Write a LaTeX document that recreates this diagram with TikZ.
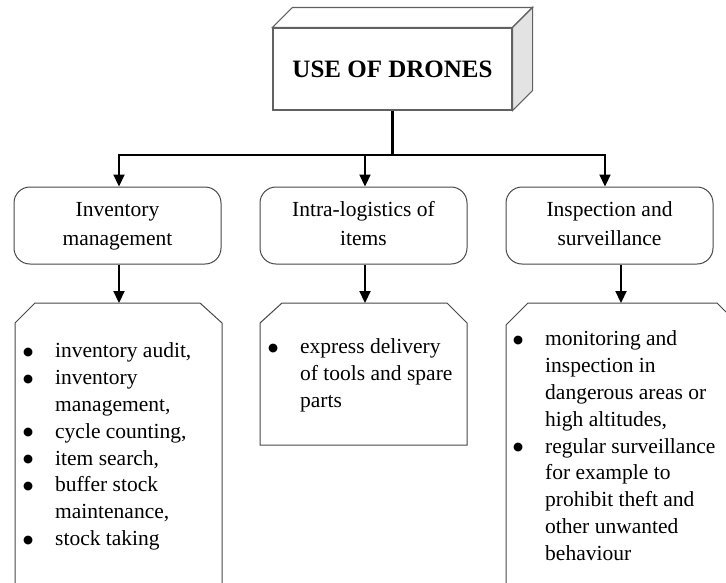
\documentclass[tikz,border=0pt]{standalone}
\usepackage{fontspec}
\setmainfont{Liberation Serif}
\newfontfamily\dejavu{DejaVu Sans}
\usetikzlibrary{arrows.meta}
\newcommand{\bul}{\raisebox{2.5pt}{\dejavu\fontsize{11.5}{12}\selectfont ●}}
\begin{document}
\begin{tikzpicture}[x=1pt,y=-1pt,
  edge/.style={draw=black!72, line width=1pt},
  cube/.style={draw=black!62, line width=1.1pt},
  hdr/.style={edge, rounded corners=16pt, minimum width=207pt, minimum height=77pt, inner sep=0pt, align=center, font=\fontsize{21.5}{29}\selectfont},
  arr/.style={line width=2.2pt, -{Triangle[length=12pt,width=11pt]}},
  lst/.style={anchor=north west, inner sep=0pt, font=\fontsize{21.5}{26.8}\selectfont},
]
\clip (0,0) rectangle (726,582);
% title cube
\node[cube, fill=white, minimum width=239pt, minimum height=82pt, inner sep=0pt,
      font=\bfseries\fontsize{25}{28}\selectfont] (title) at (392.5,69) {USE OF DRONES};
\draw[cube, fill=white] (title.north west) -- ++(20,-20) -- ([shift={(20,-20)}]title.north east) -- (title.north east) -- cycle;
\draw[cube, fill=gray!22] (title.north east) -- ++(20,-20) -- ([shift={(20,-20)}]title.south east) -- (title.south east) -- cycle;
% header boxes
\node[hdr] (b1) at (117.5,225.5) {\raisebox{-2.5pt}{\begin{tabular}{@{}c@{}}Inventory\\management\end{tabular}}};
\node[hdr] (b2) at (363.5,225.5) {\raisebox{-1pt}{\begin{tabular}{@{}c@{}}Intra-logistics of\\items\end{tabular}}};
\node[hdr] (b3) at (609.5,225.5) {\raisebox{-1pt}{\begin{tabular}{@{}c@{}}Inspection and\\surveillance\end{tabular}}};
% connectors
\coordinate (j) at (392.5,155);
\draw[line width=2.2pt] (title.south) -- (j);
\draw[arr] (j) -| ([xshift=1.5pt]b1.north);
\draw[arr] (j) -| ([xshift=1.5pt]b2.north);
\draw[arr] (j) -| ([xshift=-4.5pt]b3.north);
% lower boxes
\draw[edge, fill=white] (15,650) -- (15,323) -- (35,303) -- (200,303) -- (222,323) -- (222,650);
\draw[edge, fill=white] (260,445) -- (260,323) -- (282,303) -- (447,303) -- (467,323) -- (467,445) -- cycle;
\draw[edge, fill=white] (506,650) -- (506,325) -- (528,303) -- (717,303) -- (739,325) -- (739,650);
\coordinate (L1) at (119,303);
\coordinate (L2) at (365,303);
\coordinate (L3) at (621,303);
\draw[arr] ([xshift=1.5pt]b1.south) -- (L1);
\draw[arr] ([xshift=1.5pt]b2.south) -- (L2);
\draw[arr] ([xshift=11.5pt]b3.south) -- (L3);
% lists
\node[lst] (t1) at (23,339) {\begin{tabular}{@{}p{32pt}@{}l@{}}
\bul & inventory audit,\\
\bul & inventory\\
 & management,\\
\bul & cycle counting,\\
\bul & item search,\\
\bul & buffer stock\\
 & maintenance,\\
\bul & stock taking
\end{tabular}};
\node[lst] (t2) at (268,335) {\begin{tabular}{@{}p{32pt}@{}l@{}}
\bul & express delivery\\
 & of tools and spare\\
 & parts
\end{tabular}};
\node[lst] (t3) at (513,327) {\begin{tabular}{@{}p{32pt}@{}l@{}}
\bul & monitoring and\\
 & inspection in\\
 & dangerous areas or\\
 & high altitudes,\\
\bul & regular surveillance\\
 & for example to\\
 & prohibit theft and\\
 & other unwanted\\
 & behaviour
\end{tabular}};
\end{tikzpicture}
\end{document}
